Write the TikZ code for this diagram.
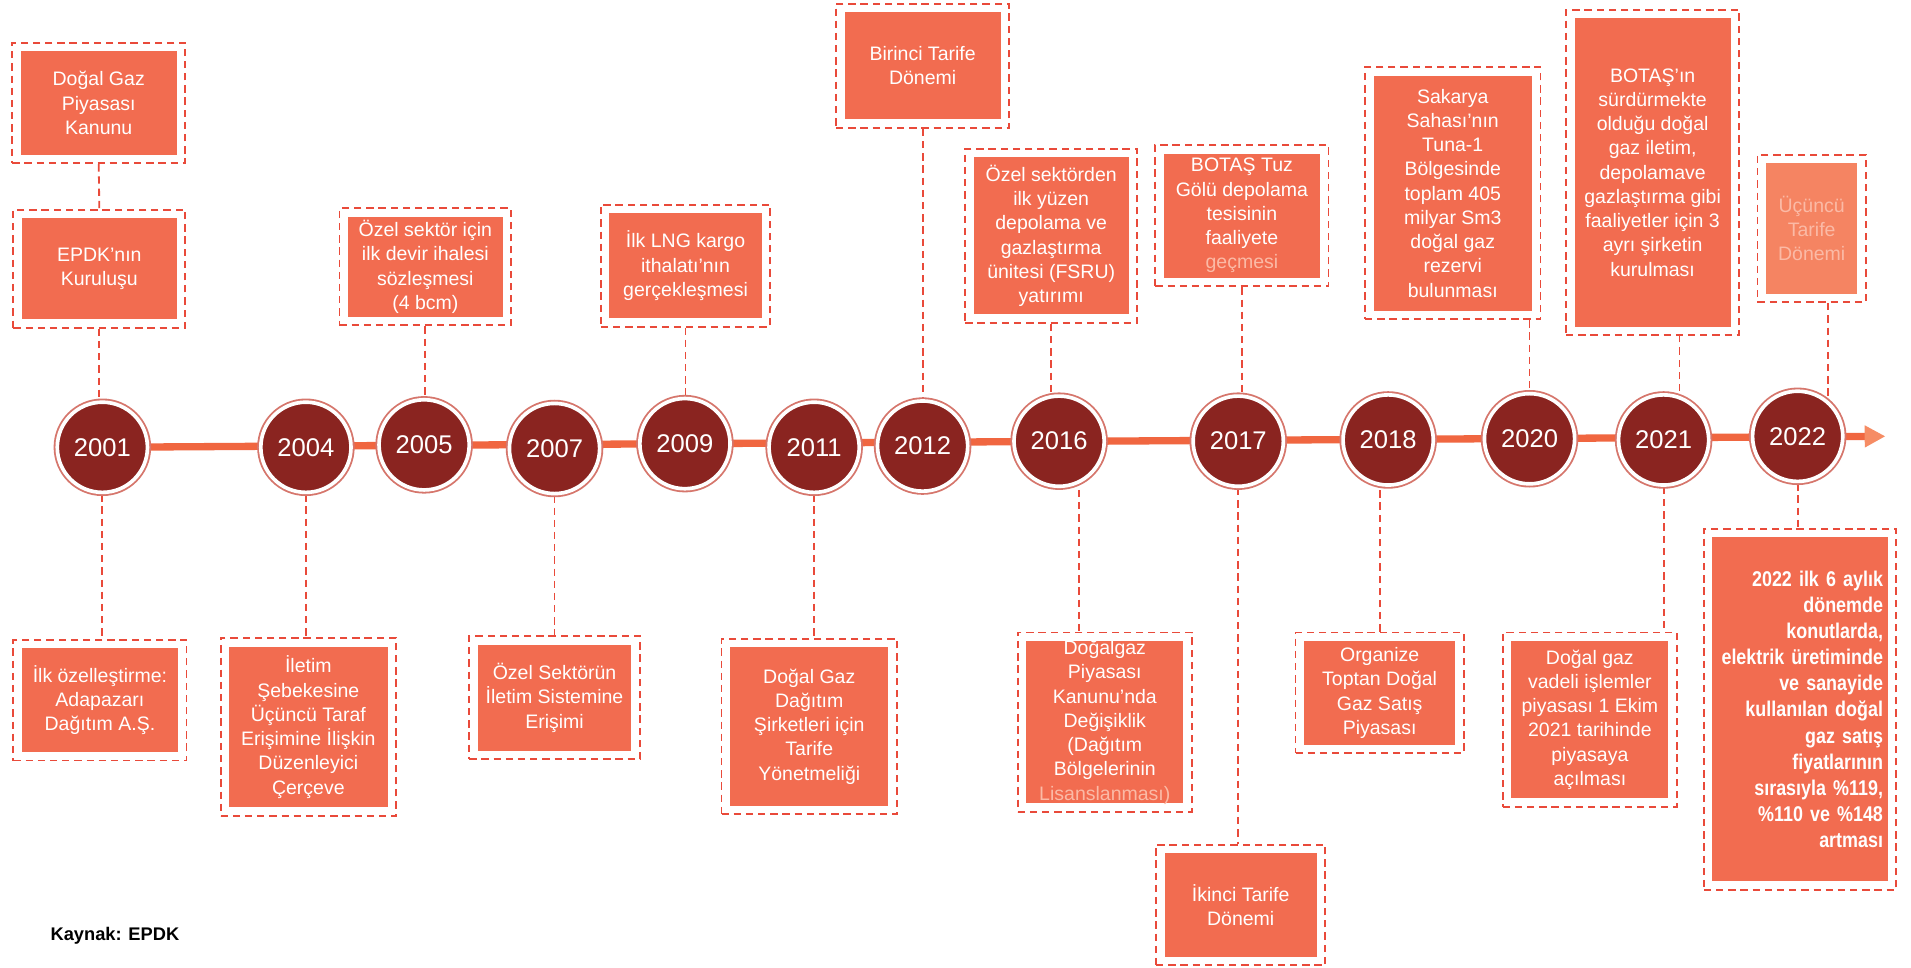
\documentclass[tikz,border=0pt]{standalone}
\usepackage{fontspec}
\setmainfont{Liberation Sans}
\newfontfamily\darfont[FakeStretch=0.84]{Liberation Sans}
\usetikzlibrary{arrows.meta,backgrounds}

\definecolor{kutu}{RGB}{242,108,80}
\definecolor{acikkutu}{RGB}{245,132,98}
\definecolor{cerceve}{RGB}{233,74,58}
\definecolor{koyu}{RGB}{138,36,32}
\definecolor{halka}{RGB}{214,118,108}
\definecolor{hat}{RGB}{240,102,64}
\definecolor{ucrenk}{RGB}{246,140,100}
\definecolor{soluk}{RGB}{251,186,166}

\tikzset{
  olay/.style={draw=cerceve, dash pattern=on 6pt off 4pt, line width=1.5pt,
    fill=white, inner sep=0pt, align=center, text=white,
    font=\fontsize{16}{19.9}\selectfont,
    path picture={\fill[#1] ([xshift=7pt,yshift=-7pt]path picture bounding box.north west)
      rectangle ([xshift=-7pt,yshift=7pt]path picture bounding box.south east);}},
  olay/.default=kutu,
  yil/.style={circle, fill=koyu, draw=white, line width=3pt, minimum size=74pt,
    inner sep=0pt, text=white, font=\fontsize{21}{24}\selectfont,
    preaction={draw=halka, line width=6pt}},
  bag/.style={draw=cerceve, dash pattern=on 6pt off 4pt, line width=1.5pt},
}

\begin{document}
\begin{tikzpicture}[x=1pt,y=-1pt]
\useasboundingbox (0,0) rectangle (1568,794);

% yillar
\node[yil] (y2001) at (84,367) {2001};
\node[yil] (y2004) at (251,367) {2004};
\node[yil] (y2005) at (348,365) {2005};
\node[yil] (y2007) at (455,368) {2007};
\node[yil] (y2009) at (562,364) {2009};
\node[yil] (y2011) at (668,367) {2011};
\node[yil] (y2012) at (757,366) {2012};
\node[yil] (y2016) at (869,362) {2016};
\node[yil] (y2017) at (1016,362) {2017};
\node[yil] (y2018) at (1139,361) {2018};
\node[yil] (y2020) at (1255,360) {2020};
\node[yil] (y2021) at (1365,361) {2021};
\node[yil] (y2022) at (1475,358) {2022};
\coordinate (son) at (1547,358);

% ust kutular
\node[olay, minimum width=142pt, minimum height=99pt] (kanun) at (81,84.5)
  {Doğal Gaz\\Piyasası\\Kanunu};
\node[olay, minimum width=141pt, minimum height=97pt] (epdk) at (81.5,220.5)
  {EPDK’nın\\Kuruluşu};
\node[olay, minimum width=141pt, minimum height=96pt] (devir) at (349,219)
  {Özel sektör için\\ilk devir ihalesi\\sözleşmesi\\(4 bcm)};
\node[olay, minimum width=139pt, minimum height=100pt] (lng) at (562.5,218)
  {İlk LNG kargo\\ithalatı’nın\\gerçekleşmesi};
\node[olay, minimum width=142pt, minimum height=102pt] (tarife1) at (757,54)
  {Birinci Tarife\\Dönemi};
\node[olay, minimum width=141pt, minimum height=143pt] (fsru) at (862.5,193.5)
  {Özel sektörden\\ilk yüzen\\depolama ve\\gazlaştırma\\ünitesi (FSRU)\\yatırımı};
\node[olay, minimum width=142pt, minimum height=116pt] (tuzgolu) at (1019,177)
  {BOTAŞ Tuz\\Gölü depolama\\tesisinin\\faaliyete\\{\color{soluk}geçmesi}};
\node[olay, minimum width=144pt, minimum height=207pt] (sakarya) at (1192,158.5)
  {Sakarya\\Sahası’nın\\Tuna-1\\Bölgesinde\\toplam 405\\milyar Sm3\\doğal gaz\\rezervi\\bulunması};
\node[olay, minimum width=142pt, minimum height=267pt] (botas) at (1356,141.5)
  {BOTAŞ’ın\\sürdürmekte\\olduğu doğal\\gaz iletim,\\depolamave\\gazlaştırma gibi\\faaliyetler için 3\\ayrı şirketin\\kurulması};
\node[olay=acikkutu, minimum width=89pt, minimum height=121pt, text=soluk] (tarife3) at (1486.5,187.5)
  {Üçüncü\\Tarife\\Dönemi};

% alt kutular
\node[olay, minimum width=142pt, minimum height=99pt] (ozel1) at (82,574.5)
  {İlk özelleştirme:\\Adapazarı\\Dağıtım A.Ş.};
\node[olay, minimum width=144pt, minimum height=146pt] (iletim) at (253,596.5)
  {İletim\\Şebekesine\\Üçüncü Taraf\\Erişimine İlişkin\\Düzenleyici\\Çerçeve};
\node[olay, minimum width=140pt, minimum height=101pt] (erisim) at (455,572.5)
  {Özel Sektörün\\İletim Sistemine\\Erişimi};
\node[olay, minimum width=144pt, minimum height=144pt] (yonetmelik) at (664,596)
  {Doğal Gaz\\Dağıtım\\Şirketleri için\\Tarife\\Yönetmeliği};
\node[olay, minimum width=143pt, minimum height=147pt] (degisiklik) at (906.5,592.5)
  {Doğalgaz\\Piyasası\\Kanunu’nda\\Değişiklik\\(Dağıtım\\Bölgelerinin\\{\color{soluk}Lisanslanması)}};
\node[olay, minimum width=139pt, minimum height=99pt] (tarife2) at (1018,742.5)
  {İkinci Tarife\\Dönemi};
\node[olay, minimum width=138pt, minimum height=99pt] (organize) at (1132,568.5)
  {Organize\\Toptan Doğal\\Gaz Satış\\Piyasası};
\node[olay, minimum width=143pt, minimum height=143pt] (vadeli) at (1304.5,590.5)
  {Doğal gaz\\vadeli işlemler\\piyasası 1 Ekim\\2021 tarihinde\\piyasaya\\açılması};
\node[olay, minimum width=158pt, minimum height=296pt, align=right, text width=136pt,
  font=\darfont\bfseries\fontsize{17.5}{21.4}\selectfont] (fiyat) at (1477,582)
  {2022 ilk 6 aylık\\dönemde\\konutlarda,\\elektrik üretiminde\\ve sanayide\\kullanılan doğal\\gaz satış\\fiyatlarının\\sırasıyla \%119,\\\%110 ve \%148\\artması};

\node[anchor=west, font=\bfseries\fontsize{15}{18}\selectfont] (kaynak) at (38,768) {Kaynak: EPDK};

\begin{scope}[on background layer]
\fill[white] (0,0) rectangle (1568,794);
% zaman cizgisi
\draw[hat, line width=6pt, -{Triangle[length=17pt,width=17pt,color=ucrenk]}] (y2001.center) -- (son);
% ust baglantilar
\draw[bag] (kanun.south) -- (epdk.north);
\draw[bag] (epdk.south) -- (epdk.south |- y2001);
\draw[bag] (devir.south) -- (devir.south |- y2005);
\draw[bag] (lng.south) -- (lng.south |- y2009);
\draw[bag] (tarife1.south) -- (tarife1.south |- y2012);
\draw[bag] (fsru.south) -- (fsru.south |- y2016);
\draw[bag] (tuzgolu.south) -- (tuzgolu.south |- y2017);
\draw[bag] (y2020 |- sakarya.south) -- (y2020);
\draw[bag] ([xshift=13pt]y2021.center) -- ++(0,-100);
\draw[bag] ([xshift=13.5pt]tarife3.south) -- ++(0,100);
% alt baglantilar
\draw[bag] (y2001) -- (y2001 |- ozel1.north);
\draw[bag] (y2004) -- (y2004 |- iletim.north);
\draw[bag] (y2007) -- (y2007 |- erisim.north);
\draw[bag] (y2011) -- (y2011 |- yonetmelik.north);
\draw[bag] ([xshift=16pt]y2016.center) -- ++(0,170);
\draw[bag] (y2017) -- (y2017 |- tarife2.north);
\draw[bag] (organize.north) -- (organize.north |- y2018);
\draw[bag] (y2021) -- (y2021 |- vadeli.north);
\draw[bag] (y2022) -- (y2022 |- fiyat.north);
\end{scope}
\end{tikzpicture}
\end{document}
